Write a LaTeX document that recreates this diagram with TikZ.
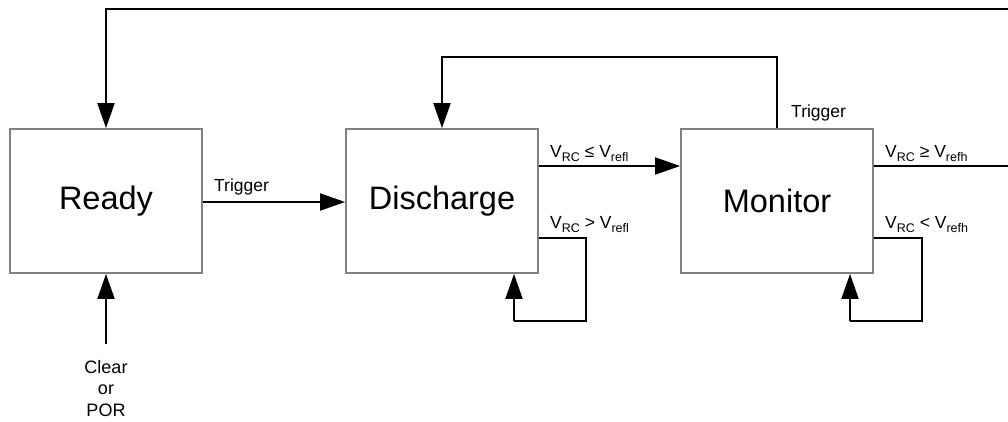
\documentclass[tikz,border=0pt]{standalone}
\usepackage{fontspec}
\setmainfont{Liberation Sans}
\usetikzlibrary{arrows.meta}
\newcommand\subx[1]{\raisebox{-4pt}{\fontsize{12.5}{13}\selectfont #1}}
\tikzset{
  statebox/.style={draw=boxgray, line width=1.8pt, fill=white, minimum width=192pt, minimum height=144pt, inner sep=0pt, font=\fontsize{32.5}{38}\selectfont},
  conn/.style={draw=black, line width=1.9pt, -{Triangle[length=25pt,width=17pt]}},
  plain/.style={draw=black, line width=1.9pt},
  lbl/.style={inner sep=0pt, anchor=base west, font=\fontsize{17.5}{20}\selectfont},
}
\definecolor{boxgray}{RGB}{128,128,128}
\begin{document}
\begin{tikzpicture}[x=1pt,y=-1pt]
\useasboundingbox (0,0) rectangle (1008,421);
\node[statebox] (ready) at (106,201) {Ready};
\node[statebox] (dis) at (442,201) {Discharge};
\node[statebox] (mon) at (777,201) {Monitor};

% Ready -> Discharge
\draw[conn] (ready.east |- 0,202) -- (dis.west |- 0,202);
\node[lbl] (trig1) at (214,191) {Trigger};

% Discharge -> Monitor
\draw[conn] (dis.east |- 0,166) -- (mon.west |- 0,166);
\node[lbl] (le) at (550,157) {V\subx{RC} ≤ V\subx{refl}};

% Discharge self loop
\coordinate (d1) at (586,238);
\coordinate (d2) at (586,321);
\coordinate (d3) at (514,321);
\draw[plain] (dis.east |- d1) -- (d1) -- (d2) -- (d3);
\draw[conn] (d3) -- (d3 |- dis.south);
\node[lbl] (gt) at (550,228) {V\subx{RC} > V\subx{refl}};

% Monitor self loop
\coordinate (m1) at (922,238);
\coordinate (m2) at (922,321);
\coordinate (m3) at (850,321);
\draw[plain] (mon.east |- m1) -- (m1) -- (m2) -- (m3);
\draw[conn] (m3) -- (m3 |- mon.south);
\node[lbl] (lt) at (885,228) {V\subx{RC} < V\subx{refh}};

% Monitor -> Discharge (Trigger)
\coordinate (t1) at (777,57);
\coordinate (t2) at (442,57);
\draw[conn] (mon.north) -- (t1) -- (t2) -- (dis.north);
\node[lbl] (trig2) at (791,117) {Trigger};

% Monitor -> Ready (V_RC >= V_refh)
\coordinate (r1) at (1014,166);
\coordinate (r2) at (1014,9);
\coordinate (r3) at (106,9);
\draw[conn] (mon.east |- r1) -- (r1) -- (r2) -- (r3) -- (ready.north);
\node[lbl] (ge) at (885,157) {V\subx{RC} ≥ V\subx{refh}};

% Clear or POR
\coordinate (c0) at (106,344);
\draw[conn] (c0) -- (ready.south);
\node[inner sep=0pt, anchor=north, align=center, font=\fontsize{18}{21.5}\selectfont] (clr) at (106,360) {Clear\\or\\POR};
\end{tikzpicture}
\end{document}
